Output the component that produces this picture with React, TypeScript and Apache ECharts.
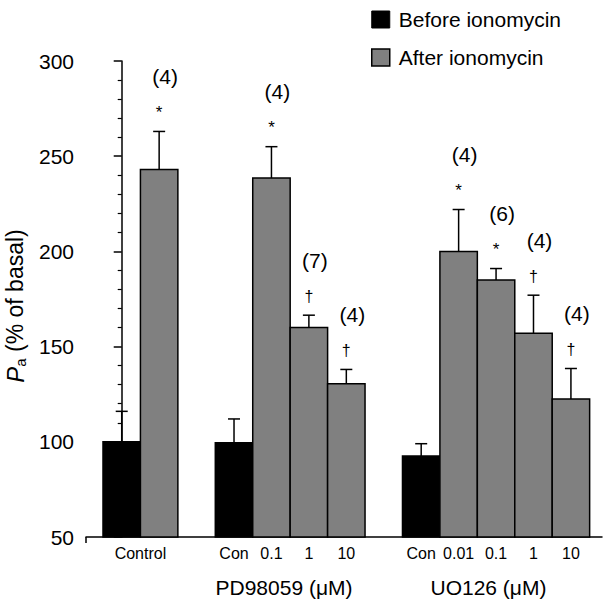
import React, { useEffect, useRef } from "react";
import * as echarts from "echarts";

// ---- data ----
const beforePos = [0, 3, 8];
const beforeMean = [100, 99.5, 92.5];
const beforeSem = [16, 12.5, 6.5];

const afterPos = [1, 4, 5, 6, 9, 10, 11, 12];
const afterMean = [243, 238.5, 160, 130.5, 200, 185, 157, 122.5];
const afterSem = [20, 16.5, 6.5, 7.5, 22, 6, 20, 16];
const afterN = [4, 4, 7, 4, 4, 6, 4, 4];
const afterSig = ["*", "*", "†", "†", "*", "*", "†", "†"];

const tickPos = [0.5, 3, 4, 5, 6, 8, 9, 10, 11, 12];
const tickLabels = ["Control", "Con", "0.1", "1", "10", "Con", "0.01", "0.1", "1", "10"];

const groupLabels = ["PD98059 (μM)", "UO126 (μM)"];

const yTicks = [50, 100, 150, 200, 250, 300];

const FONT = "'Liberation Sans', Arial, Helvetica, sans-serif";
const X_MIN = -0.954;
const X_MAX = 12.83;

function makeRender(kind: "before" | "after") {
  return (params: any, api: any) => {
    const idx = params.dataIndex;
    const x = api.value(0);
    const mean = api.value(1);
    const sem = api.value(2);
    const base = api.coord([x, yTicks[0]]);
    const top = api.coord([x, mean]);
    const et = api.coord([x, mean + sem]);
    const w = api.size([1, 0])[0];
    const children: any[] = [
      {
        type: "rect",
        shape: { x: base[0] - w / 2, y: top[1], width: w, height: base[1] - top[1] },
        style: {
          fill: kind === "before" ? "#000" : "#808080",
          stroke: "#000",
          lineWidth: 1.5,
        },
      },
      {
        type: "line",
        shape: { x1: top[0], y1: top[1], x2: et[0], y2: et[1] },
        style: { stroke: "#000", lineWidth: 1.5 },
      },
      {
        type: "line",
        shape: { x1: et[0] - 6, y1: et[1], x2: et[0] + 6, y2: et[1] },
        style: { stroke: "#000", lineWidth: 1.5 },
      },
    ];
    if (kind === "after") {
      const sig = afterSig[idx];
      children.push({
        type: "text",
        style: {
          text: sig,
          x: et[0],
          y: sig === "*" ? et[1] - 19 : et[1] - 19,
          align: "center",
          verticalAlign: "middle",
          fontSize: sig === "*" ? 17 : 16,
          fontFamily: FONT,
          fill: "#000",
        },
      });
      children.push({
        type: "text",
        style: {
          text: "(" + afterN[idx] + ")",
          x: et[0] + 6,
          y: et[1] - 55,
          align: "center",
          verticalAlign: "middle",
          fontSize: 21,
          fontFamily: FONT,
          fill: "#000",
        },
      });
    }
    return { type: "group", children };
  };
}

export default function App() {
  const ref = useRef<HTMLDivElement>(null);
  useEffect(() => {
    if (!ref.current) return;
    const chart = echarts.init(ref.current, undefined, { renderer: "svg" });
    const beforeData = beforePos.map((p, i) => [p, beforeMean[i], beforeSem[i]]);
    const afterData = afterPos.map((p, i) => [p, afterMean[i], afterSem[i]]);
    chart.setOption({
      animation: false,
      backgroundColor: "#fff",
      textStyle: { fontFamily: FONT },
      grid: { left: 86, right: 3, top: 61, bottom: 69, containLabel: false, outerBoundsMode: "none" },
      legend: {
        orient: "vertical",
        left: 366,
        top: 4,
        itemWidth: 18,
        itemHeight: 17,
        itemGap: 17,
        icon: "rect",
        textStyle: { fontSize: 21, color: "#000", fontFamily: FONT, padding: [0, 0, 0, 4] },
        data: [
          { name: "Before ionomycin", itemStyle: { color: "#000", borderColor: "#000", borderWidth: 1 } },
          { name: "After ionomycin", itemStyle: { color: "#808080", borderColor: "#000", borderWidth: 1.5 } },
        ],
      },
      xAxis: {
        type: "value",
        min: X_MIN,
        max: X_MAX,
        splitLine: { show: false },
        axisLine: { show: true, lineStyle: { color: "#000", width: 1.5 } },
        axisTick: { show: true, customValues: [X_MIN], length: 6, lineStyle: { color: "#000", width: 1.5 } },
        axisLabel: {
          show: true,
          customValues: tickPos,
          formatter: (v: number) => {
            const i = tickPos.findIndex((p) => Math.abs(p - v) < 1e-6);
            return i >= 0 ? tickLabels[i] : "";
          },
          fontSize: 16,
          color: "#000",
          fontFamily: FONT,
          margin: 8,
        },
      },
      yAxis: {
        type: "value",
        min: 50,
        max: 300,
        interval: 50,
        splitLine: { show: false },
        axisLine: { show: true, lineStyle: { color: "#000", width: 1.5 } },
        axisTick: { show: true, length: 8, lineStyle: { color: "#000", width: 1.5 } },
        minorTick: { show: true, splitNumber: 5, length: 4, lineStyle: { color: "#000", width: 1.2 } },
        axisLabel: { fontSize: 21, color: "#000", fontFamily: FONT, margin: 12 },
        name: "{p|P}{s|a}{t| (% of basal)}",
        nameLocation: "middle",
        nameGap: 57,
        nameRotate: 90,
        nameTextStyle: {
          color: "#000",
          fontFamily: FONT,
          fontSize: 23,
          padding: [0, 14, 0, 0],
          rich: {
            p: { fontStyle: "italic", fontSize: 24, fontFamily: FONT, color: "#000", verticalAlign: "top", lineHeight: 25 },
            s: { fontSize: 15, fontFamily: FONT, color: "#000", verticalAlign: "top", lineHeight: 25, padding: [10, 0, 0, 0] },
            t: { fontSize: 23, fontFamily: FONT, color: "#000", verticalAlign: "top", lineHeight: 25 },
          },
        },
      },
      graphic: [
        {
          type: "text",
          left: 284.5 - 69,
          top: 577,
          style: { text: groupLabels[0], fontSize: 21, fontFamily: FONT, fill: "#000" },
        },
        {
          type: "text",
          left: 487.5 - 57,
          top: 577,
          style: { text: groupLabels[1], fontSize: 21, fontFamily: FONT, fill: "#000" },
        },
      ],
      series: [
        {
          name: "Before ionomycin",
          type: "custom",
          renderItem: makeRender("before"),
          data: beforeData,
          itemStyle: { color: "#000" },
          encode: { x: 0, y: [1, 2] },
          clip: false,
        },
        {
          name: "After ionomycin",
          type: "custom",
          renderItem: makeRender("after"),
          data: afterData,
          itemStyle: { color: "#808080" },
          encode: { x: 0, y: [1, 2] },
          clip: false,
        },
      ],
    });
    return () => chart.dispose();
  }, []);
  return (
    <div
      ref={ref}
      style={{ position: "fixed", left: 0, top: 0, width: 605, height: 606, background: "#fff" }}
    />
  );
}
